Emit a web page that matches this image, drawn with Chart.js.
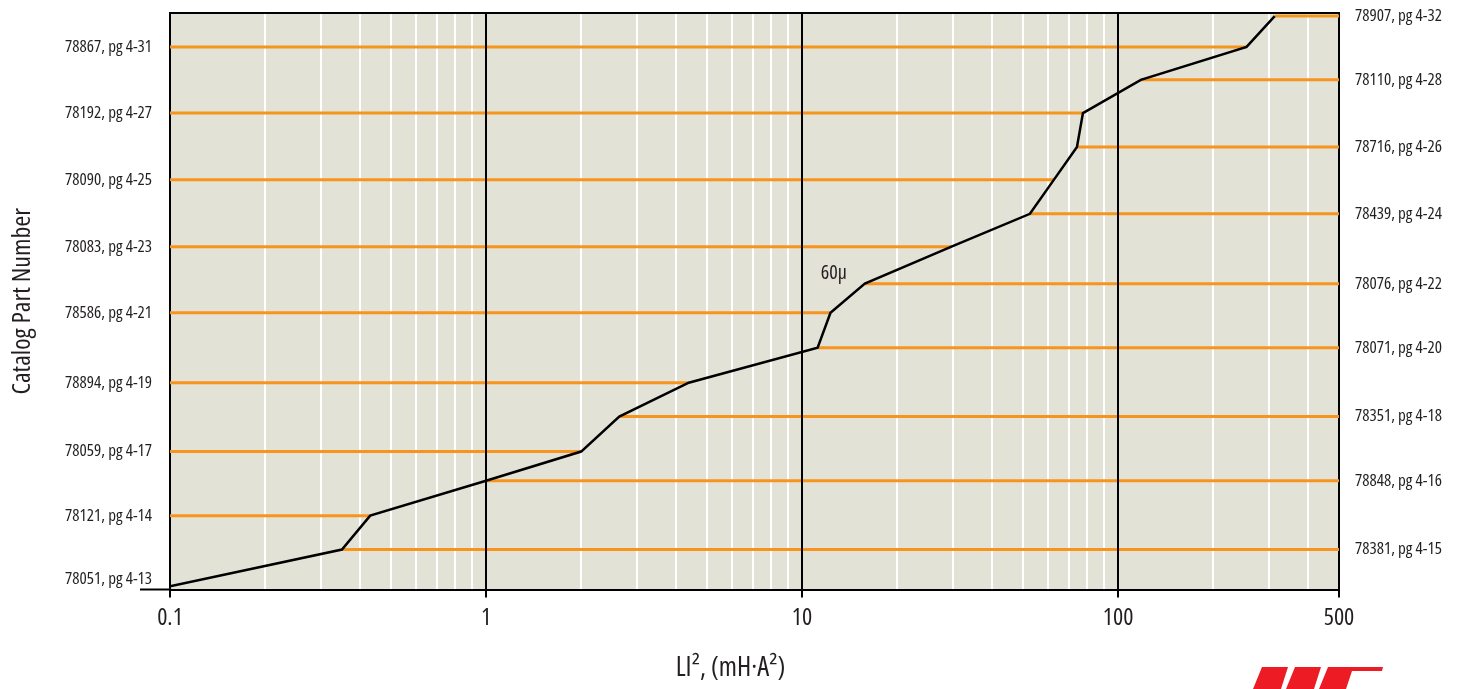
<!DOCTYPE html>
<html>
<head>
<meta charset="utf-8">
<script src="https://cdn.jsdelivr.net/npm/chart.js@4/dist/chart.umd.min.js"></script>
<style>
  html, body { margin: 0; padding: 0; background: #fff; }
  #wrap { position: relative; width: 1461px; height: 689px; }
  #logo { position: absolute; left: 1250px; top: 664px; }
</style>
</head>
<body>
<div id="wrap">
  <canvas id="liChart"></canvas>
  <svg id="logo" width="140" height="25" viewBox="0 0 140 25">
    <polygon points="12,3 38,3 31,25 3,25" fill="#ed1c24"/>
    <polygon points="45,3 71,3 64,25 36,25" fill="#ed1c24"/>
    <polygon points="78,3 133,3 132,7 102,7 96,25 69,25" fill="#ed1c24"/>
  </svg>
</div>
<script>
// parts labelled on the left (orange line runs from left edge to curve)
const leftParts = ["78051, pg 4-13", "78121, pg 4-14", "78059, pg 4-17", "78894, pg 4-19", "78586, pg 4-21",
                   "78083, pg 4-23", "78090, pg 4-25", "78192, pg 4-27", "78867, pg 4-31"];
const leftLevels = [0.1, 2.18, 4.07, 6.10, 8.16, 10.11, 12.08, 14.05, 16.00];
const leftLI2 = [0.1, 0.43, 2.0, 4.38, 12.3, 29.7, 62.6, 77.4, 255];

// parts labelled on the right (orange line runs from curve to right edge)
const rightParts = ["78381, pg 4-15", "78848, pg 4-16", "78351, pg 4-18", "78071, pg 4-20", "78076, pg 4-22",
                    "78439, pg 4-24", "78716, pg 4-26", "78110, pg 4-28", "78907, pg 4-32"];
const rightLevels = [1.18, 3.21, 5.10, 7.13, 9.02, 11.08, 13.05, 15.03, 16.91];
const rightLI2 = [0.35, 1.0, 2.64, 11.2, 15.8, 52.6, 74.1, 118, 313];

const xMin = 0.1, xMax = 500;
const levelMin = 0, levelMax = 17;
const bottomLabelLevel = 0.3;   // lowest left label sits a little above the axis
const xGridValues = [0.1, 0.2, 0.3, 0.4, 0.5, 0.6, 0.7, 0.8, 0.9,
                     1, 2, 3, 4, 5, 6, 7, 8, 9,
                     10, 20, 30, 40, 50, 60, 70, 80, 90,
                     100, 200, 300, 400, 500];
const xLabelValues = [0.1, 1, 10, 100, 500];
const xMajorValues = [1, 10, 100];
const note = { text: "60\u03bc", x: 12.6, y: 9.34 };

const FONT = "'Open Sans', 'Roboto', sans-serif";
const INK = "#231f20";
const ORANGE = "#f7941d";

// chart.js rejects "condensed" as a style, but passes weight straight into the font string
Chart.defaults.font.family = FONT;
Chart.defaults.font.weight = "condensed";

// curve goes through every part, bottom to top
const curvePts = leftLevels.map((y, i) => ({ x: leftLI2[i], y }))
    .concat(rightLevels.map((y, i) => ({ x: rightLI2[i], y })))
    .sort((a, b) => a.y - b.y);

const datasets = [{
    data: curvePts, borderColor: "#000", borderWidth: 2.5, pointRadius: 0, showLine: true, tension: 0
}];
leftLevels.forEach((y, i) => datasets.push({
    data: [{ x: xMin, y }, { x: leftLI2[i], y }],
    borderColor: ORANGE, borderWidth: 3, pointRadius: 0, showLine: true
}));
rightLevels.forEach((y, i) => datasets.push({
    data: [{ x: rightLI2[i], y }, { x: xMax, y }],
    borderColor: ORANGE, borderWidth: 3, pointRadius: 0, showLine: true
}));

const plotBg = {
    id: "plotBg",
    beforeDraw(chart) {
        const { ctx, chartArea: a } = chart;
        ctx.save();
        ctx.fillStyle = "#e2e2d6";
        ctx.fillRect(a.left, a.top, a.right - a.left, a.bottom - a.top);
        ctx.restore();
    }
};

const noteLabel = {
    id: "noteLabel",
    afterDraw(chart) {
        const { ctx, scales } = chart;
        ctx.save();
        ctx.font = "condensed 20px " + FONT;
        ctx.fillStyle = INK;
        ctx.textAlign = "center";
        ctx.textBaseline = "middle";
        ctx.fillText(note.text, scales.x.getPixelForValue(note.x), scales.y.getPixelForValue(note.y));
        ctx.restore();
    }
};

new Chart(document.getElementById("liChart"), {
    type: "scatter",
    data: { datasets },
    plugins: [plotBg, noteLabel],
    options: {
        responsive: true,
        maintainAspectRatio: false,
        animation: false,
        layout: { padding: 0 },
        plugins: {
            legend: { display: false },
            tooltip: { enabled: false },
            title: {
                display: true, position: "bottom", text: "LI\u00b2, (mH\u00b7A\u00b2)", color: INK,
                font: { size: 27, weight: "condensed" },
                padding: { top: 15, bottom: 4 }
            }
        },
        scales: {
            x: {
                type: "logarithmic", min: xMin, max: xMax, position: "bottom",
                afterBuildTicks: s => { s.ticks = xGridValues.map(v => ({ value: v })); },
                afterFit: s => { s.height = 48; },
                grid: {
                    lineWidth: 2, drawTicks: true, tickLength: 8, tickWidth: 2,
                    color: c => (xMajorValues.includes(c.tick.value) || c.tick.value === xMin || c.tick.value === xMax) ? "transparent" : "#ffffff",
                    tickColor: c => xLabelValues.includes(c.tick.value) ? "#000" : "transparent"
                },
                border: { color: "#000", width: 2 },
                ticks: {
                    autoSkip: false, maxRotation: 0, padding: 6, color: INK,
                    font: { size: 24 },
                    callback: v => xLabelValues.includes(v) ? String(v) : ""
                }
            },
            // top edge + black decade lines, drawn above the orange lines
            xTop: {
                type: "logarithmic", min: xMin, max: xMax, position: "top",
                afterBuildTicks: s => { s.ticks = xMajorValues.map(v => ({ value: v })); },
                afterFit: s => { s.height = 13; },
                grid: { color: "#000", lineWidth: 2, drawTicks: false, z: 1 },
                border: { color: "#000", width: 2, z: 1 },
                ticks: { display: false, padding: 0 }
            },
            y: {
                type: "linear", min: levelMin, max: levelMax, position: "left",
                afterBuildTicks: s => {
                    s.ticks = [levelMin, bottomLabelLevel].concat(leftLevels.slice(1)).map(v => ({ value: v }));
                },
                afterFit: s => { s.width = 170; },
                grid: {
                    color: "transparent", drawTicks: true, tickLength: 30, tickWidth: 2,
                    tickColor: c => c.tick.value === levelMin ? "#000" : "transparent"
                },
                border: { color: "#000", width: 2 },
                title: {
                    display: true, text: "Catalog Part Number", color: INK,
                    font: { size: 26 }, padding: { top: 7, bottom: 0 }
                },
                ticks: {
                    autoSkip: false, padding: -12, color: INK,
                    font: { size: 17 },
                    callback: (v, i) => i === 0 ? "" : leftParts[i - 1]
                }
            },
            yRight: {
                type: "linear", min: levelMin, max: levelMax, position: "right",
                afterBuildTicks: s => { s.ticks = rightLevels.map(v => ({ value: v })); },
                afterFit: s => { s.width = 122; },
                grid: { color: "transparent", drawTicks: true, tickLength: 16, tickColor: "transparent" },
                border: { color: "#000", width: 2 },
                ticks: {
                    autoSkip: false, padding: 0, color: INK,
                    font: { size: 17 },
                    callback: (v, i) => rightParts[i]
                }
            }
        }
    }
});
</script>
</body>
</html>
